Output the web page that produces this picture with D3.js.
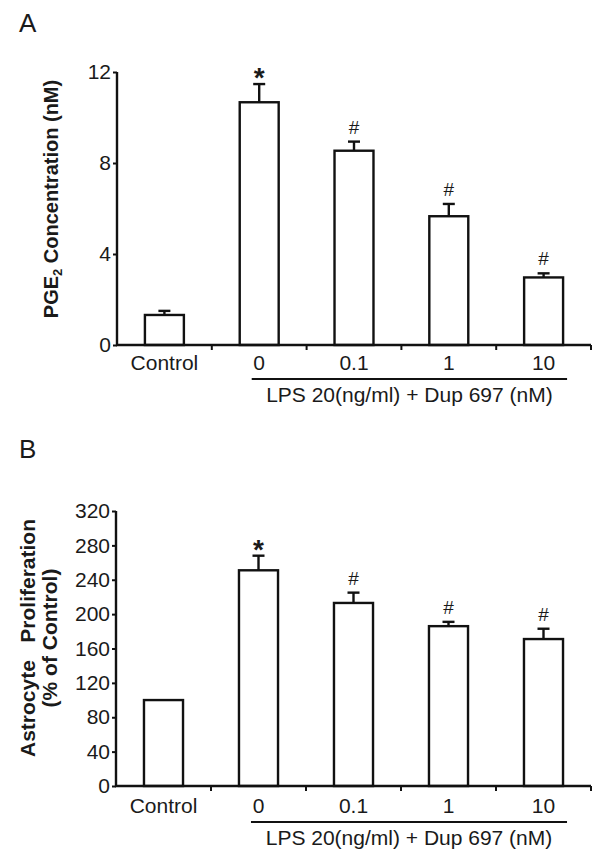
<!DOCTYPE html>
<html>
<head>
<meta charset="utf-8">
<script src="https://cdn.jsdelivr.net/npm/d3@7"></script>
<style>
  html, body { margin: 0; padding: 0; background: #fff; }
  svg { display: block; }
  text { font-family: Arial, "Liberation Sans", sans-serif; fill: #1a1a1a; }
</style>
</head>
<body>
<script>
// ---- data ----
const categories = ["Control", "0", "0.1", "1", "10"];
const groupLabel = "LPS 20(ng/ml) + Dup 697 (nM)";

// Panel A: PGE2 concentration (nM)
const pgeMean = [1.32, 10.67, 8.54, 5.66, 2.97];
const pgeErr  = [0.18, 0.80, 0.40, 0.54, 0.18];
const pgeMarks = ["", "*", "#", "#", "#"];
const pgeTicks = [0, 4, 8, 12];

// Panel B: Astrocyte proliferation (% of control)
const proMean = [100, 251, 213, 186, 171];
const proErr  = [0, 17, 12, 5, 12];
const proMarks = ["", "*", "#", "#", "#"];
const proTicks = [0, 40, 80, 120, 160, 200, 240, 280, 320];

const W = 601, H = 867;
const svg = d3.select("body").append("svg").attr("width", W).attr("height", H);

function panel(cfg) {
  const g = svg.append("g");
  const xOuter = d3.scaleBand().domain(categories).range([cfg.x0, cfg.x1]).padding(0);
  const x = d3.scaleBand().domain(categories).range([cfg.x0, cfg.x1])
    .paddingInner(0.589).paddingOuter(0.2945);
  const y = d3.scaleLinear().domain([0, cfg.max]).range([cfg.yBottom, cfg.yTop]);
  const sw = 2.4;

  // letter
  g.append("text").attr("x", 19).attr("y", cfg.letterY)
    .attr("font-size", 26).text(cfg.letter);

  // bars
  g.selectAll("rect.bar").data(cfg.mean).join("rect")
    .attr("x", (d, i) => x(categories[i]))
    .attr("y", d => y(d))
    .attr("width", x.bandwidth())
    .attr("height", d => y(0) - y(d))
    .attr("fill", "#fff").attr("stroke", "#111").attr("stroke-width", sw);

  // error bars
  cfg.mean.forEach((d, i) => {
    if (!cfg.err[i]) return;
    const cx = x(categories[i]) + x.bandwidth() / 2;
    g.append("line").attr("x1", cx).attr("x2", cx)
      .attr("y1", y(d)).attr("y2", y(d + cfg.err[i]))
      .attr("stroke", "#111").attr("stroke-width", sw);
    g.append("line").attr("x1", cx - 6).attr("x2", cx + 6)
      .attr("y1", y(d + cfg.err[i])).attr("y2", y(d + cfg.err[i]))
      .attr("stroke", "#111").attr("stroke-width", sw);
  });

  // significance marks
  cfg.marks.forEach((m, i) => {
    if (!m) return;
    const cx = x(categories[i]) + x.bandwidth() / 2;
    const top = y(cfg.mean[i] + cfg.err[i]);
    g.append("text").attr("x", cx)
      .attr("y", m === "*" ? top + 3 : top - 8)
      .attr("text-anchor", "middle")
      .attr("font-size", m === "*" ? 28 : 19)
      .attr("font-weight", m === "*" ? "bold" : "normal")
      .text(m);
  });

  // y axis
  const yAxis = g.append("g").attr("transform", `translate(${cfg.x0},0)`)
    .call(d3.axisLeft(y).tickValues(cfg.ticks).tickSize(4).tickPadding(2));
  yAxis.select(".domain").attr("stroke", "#111").attr("stroke-width", sw)
    .attr("d", `M0,${cfg.yBottom + 1}V${cfg.yTop}`);
  yAxis.selectAll(".tick line").attr("stroke", "#111").attr("stroke-width", 2);
  yAxis.selectAll(".tick text").attr("font-size", 21).attr("fill", "#1a1a1a")
    .attr("font-family", 'Arial, "Liberation Sans", sans-serif');

  // x axis line
  g.append("line").attr("x1", cfg.x0 - 1).attr("x2", cfg.x1)
    .attr("y1", y(0)).attr("y2", y(0)).attr("stroke", "#111").attr("stroke-width", sw);
  // boundary ticks
  g.selectAll("line.bt").data(categories).join("line")
    .attr("x1", d => xOuter(d) + xOuter.bandwidth())
    .attr("x2", d => xOuter(d) + xOuter.bandwidth())
    .attr("y1", y(0)).attr("y2", y(0) + 5)
    .attr("stroke", "#111").attr("stroke-width", 2);
  // category labels
  g.selectAll("text.cat").data(categories).join("text")
    .attr("x", d => x(d) + x.bandwidth() / 2)
    .attr("y", y(0) + cfg.catDy)
    .attr("text-anchor", "middle").attr("font-size", 21)
    .text(d => d);

  // group line and label
  const lx0 = x("0") + 12, lx1 = x("10") + x.bandwidth() + 4;
  g.append("line").attr("x1", lx0).attr("x2", lx1)
    .attr("y1", y(0) + cfg.lineDy).attr("y2", y(0) + cfg.lineDy)
    .attr("stroke", "#111").attr("stroke-width", 2);
  g.append("text").attr("x", (lx0 + lx1) / 2).attr("y", y(0) + cfg.lineDy + 23)
    .attr("text-anchor", "middle").attr("font-size", 21).text(groupLabel);

  return g;
}

const gA = panel({
  letter: "A", letterY: 32, x0: 117, x1: 591, yTop: 72, yBottom: 345, max: 12,
  mean: pgeMean, err: pgeErr, marks: pgeMarks, ticks: pgeTicks,
  catDy: 25, lineDy: 34
});
// y title A
const tA = gA.append("text")
  .attr("transform", "translate(58,199) rotate(-90)")
  .attr("text-anchor", "middle").attr("font-size", 20).attr("font-weight", "bold");
tA.append("tspan").text("PGE");
tA.append("tspan").attr("font-size", 13).attr("dy", 4).text("2");
tA.append("tspan").attr("dy", -4).text(" Concentration (nM)");

const gB = panel({
  letter: "B", letterY: 458, x0: 116, x1: 591, yTop: 511, yBottom: 786, max: 320,
  mean: proMean, err: proErr, marks: proMarks, ticks: proTicks,
  catDy: 27, lineDy: 36
});
gB.append("text")
  .attr("transform", "translate(35,638) rotate(-90)")
  .attr("text-anchor", "middle").attr("font-size", 21).attr("font-weight", "bold")
  .attr("xml:space", "preserve").style("white-space", "pre")
  .text("Astrocyte   Proliferation");
gB.append("text")
  .attr("transform", "translate(57,638) rotate(-90)")
  .attr("text-anchor", "middle").attr("font-size", 21).attr("font-weight", "bold")
  .text("(% of Control)");
</script>
</body>
</html>
